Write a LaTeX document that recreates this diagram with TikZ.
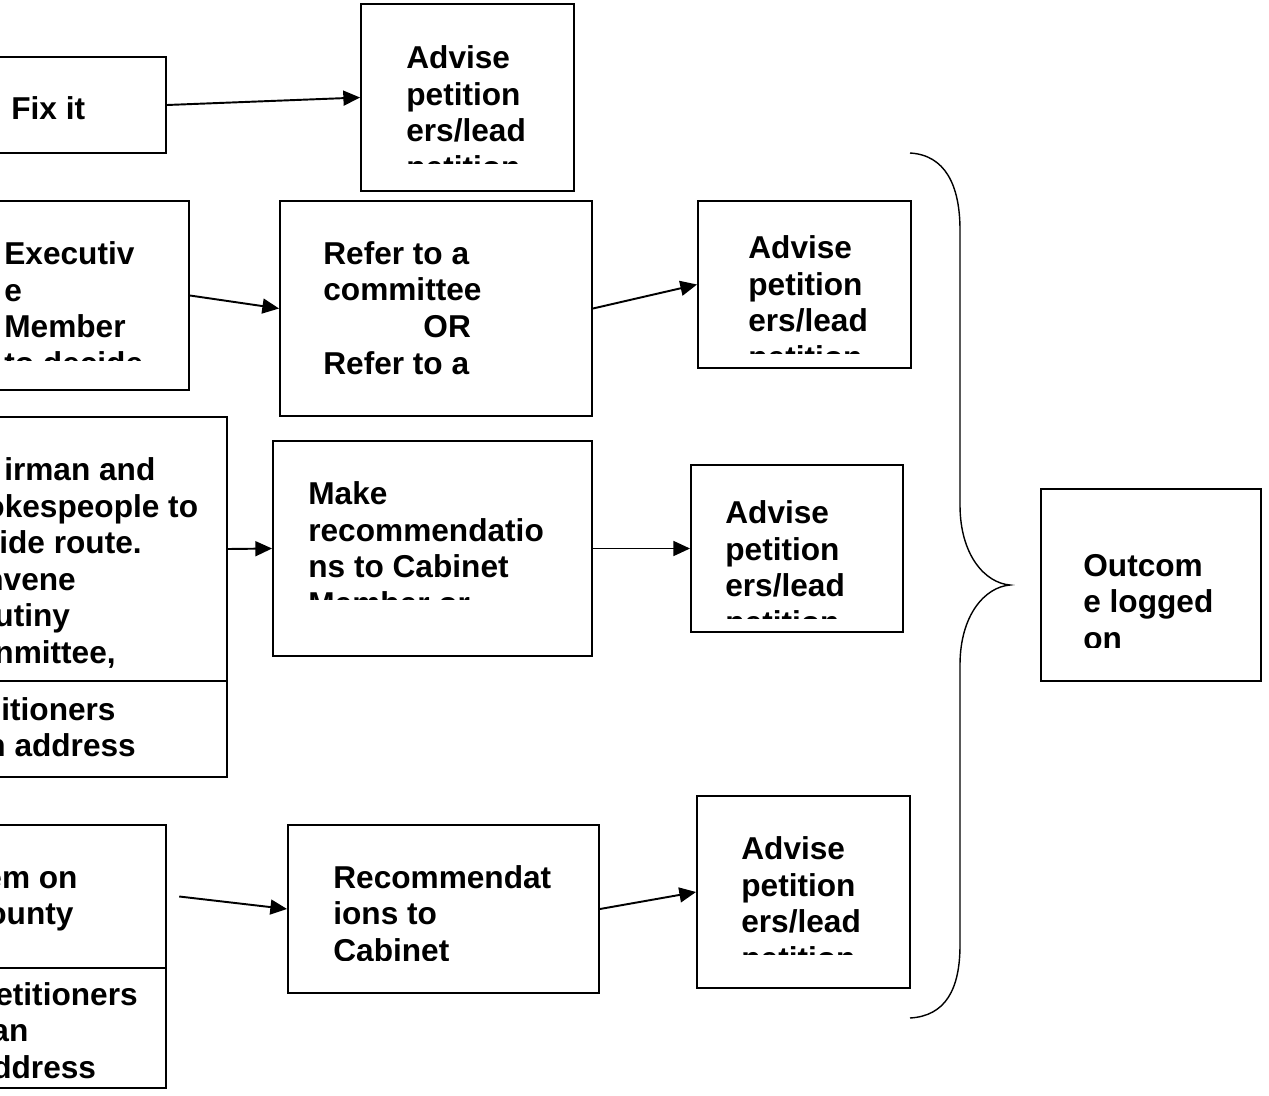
\documentclass[tikz,border=0pt]{standalone}
\usepackage{fontspec}
\setmainfont{Liberation Sans}
\usepackage{tikz}
\usetikzlibrary{arrows.meta}
\usetikzlibrary{calc}
\tikzstyle{flowBox}   = [draw, line width=1.1pt, inner sep=0pt]
\tikzstyle{flowText}  = [anchor=base west, inner sep=0pt, align=left, font=\bfseries\fontsize{18}{20.8}\selectfont]
\tikzstyle{flowArrow} = [line width=1.1pt, -{Triangle[length=9.5pt,width=8.5pt]}]

\begin{document}
\begin{tikzpicture}[x=0.02cm,y=-0.02cm]
                    \useasboundingbox (0,0) rectangle (1269,1096);
                    \clip             (0,0) rectangle (1269,1096);
                    \node at (73,105)      [flowBox,minimum width=3.72cm,minimum height=1.92cm] (nFix)    {};
                    \node at (467.5,97.5)  [flowBox,minimum width=4.26cm,minimum height=3.74cm] (nAdv1)   {};
                    \node at (84.5,295.5)  [flowBox,minimum width=4.18cm,minimum height=3.78cm] (nExec)   {};
                    \node at (436,308.5)   [flowBox,minimum width=6.24cm,minimum height=4.30cm] (nRefer)  {};
                    \node at (804.5,284.5) [flowBox,minimum width=4.26cm,minimum height=3.34cm] (nAdv2)   {};
                    \node at (103.5,549)   [flowBox,minimum width=4.94cm,minimum height=5.28cm] (nChair)  {};
                    \node at (103.5,729)   [flowBox,minimum width=4.94cm,minimum height=1.92cm] (nChairB) {};
                    \node at (432.5,548.5) [flowBox,minimum width=6.38cm,minimum height=4.30cm] (nMake)   {};
                    \node at (797,548.5)   [flowBox,minimum width=4.24cm,minimum height=3.34cm] (nAdv3)   {};
                    \node at (73,896.5)    [flowBox,minimum width=3.72cm,minimum height=2.86cm] (nItem)   {};
                    \node at (73,1028)     [flowBox,minimum width=3.72cm,minimum height=2.40cm] (nItemB)  {};
                    \node at (443.5,909)   [flowBox,minimum width=6.22cm,minimum height=3.36cm] (nRec)    {};
                    \node at (803.5,892)   [flowBox,minimum width=4.26cm,minimum height=3.84cm] (nAdv4)   {};
                    \node at (1151,585)    [flowBox,minimum width=4.40cm,minimum height=3.84cm] (nOut)    {};
                    \node at (11,119)      [flowText] (tFix)    {Fix it};
                    \node at (323,374)     [flowText] (tRefer)  {Refer to a\\committee\\\hspace*{57pt}OR\\Refer to a};
                    \node at (-1,663.5)    [flowText] (tChair)  {\hspace*{2.8pt}irman and\\\hspace*{-7.9pt}okespeople to\\ide route.\\\hspace*{-8.5pt}nvene\\\hspace*{-2.8pt}utiny\\\hspace*{-2.8pt}nmittee,};
                    \node at (1,756.7)     [flowText] (tChairB) {itioners\\\hspace*{-8.5pt}n address};
                    \node at (-1,924.7)    [flowText] (tItem)   {\hspace*{-8.5pt}em on\\\hspace*{-6.8pt}ounty};
                    \node at (2,1078.4)    [flowText] (tItemB)  {\hspace*{-4pt}etitioners\\\hspace*{-6.2pt}an\\\hspace*{-5.7pt}ddress};
                    \begin{scope}
                        \clip (361,4) rectangle (574,163);
                        \node at (406,178.1)  [flowText] (tAdv1) {Advise\\petition\\ers/lead\\petition};
                    \end{scope}
                    \begin{scope}
                        \clip (0,201) rectangle (189,360);
                        \node at (4,374.1)    [flowText] (tExec) {Executiv\\e\\Member\\to decide};
                    \end{scope}
                    \begin{scope}
                        \clip (698,201) rectangle (911,353);
                        \node at (748,368.1)  [flowText] (tAdv2) {Advise\\petition\\ers/lead\\petition};
                    \end{scope}
                    \begin{scope}
                        \clip (273,441) rectangle (592,599);
                        \node at (308,614.1)  [flowText] (tMake) {Make\\recommendatio\\ns to Cabinet\\Member or};
                    \end{scope}
                    \begin{scope}
                        \clip (691,465) rectangle (903,618);
                        \node at (725,633.1)  [flowText] (tAdv3) {Advise\\petition\\ers/lead\\petition};
                    \end{scope}
                    \begin{scope}
                        \clip (288,825) rectangle (599,960);
                        \node at (333,961.4)  [flowText] (tRec) {Recommendat\\ions to\\Cabinet};
                    \end{scope}
                    \begin{scope}
                        \clip (697,796) rectangle (910,954);
                        \node at (741,969.1)  [flowText] (tAdv4) {Advise\\petition\\ers/lead\\petition};
                    \end{scope}
                    \begin{scope}
                        \clip (1041,489) rectangle (1261,647);
                        \node at (1083,649.4) [flowText] (tOut) {Outcom\\e logged\\on};
                    \end{scope}
                    \draw[flowArrow] (nFix.east)             to (nAdv1.west)  ;
                    \draw[flowArrow] (nExec.east)            to (nRefer.west) ;
                    \draw[flowArrow] (nRefer.east)           to (nAdv2.west)  ;
                    \draw[flowArrow] (nChair.east)           to (nMake.west)  ;
                    \draw[flowArrow] (nMake.east)            to (nAdv3.west)  ;
                    \draw[flowArrow] ([xshift=7]nItem.east)  to (nRec.west)   ;
                    \draw[flowArrow] (nRec.east)             to (nAdv4.west)  ;
                    \coordinate (cTop) at (910,153);
                    \coordinate (cTip) at (1010,585);
                    \coordinate (cBot) at (910,1018);
                    \draw[line width=0.8pt] (cTop) .. controls (945,155) and (960,185) .. (960,230) -- (960,505)
                        .. controls (960,555) and (985,583) .. (cTip) .. controls (985,587) and (960,615) .. (960,665)
                        -- (960,945) .. controls (960,990) and (945,1016) .. (cBot);
                \end{tikzpicture}
\end{document}
